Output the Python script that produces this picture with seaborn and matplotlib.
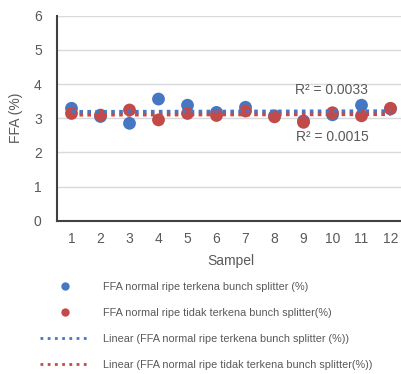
import numpy as np
import pandas as pd
import matplotlib
matplotlib.use("Agg")
import matplotlib.pyplot as plt
import seaborn as sns
from matplotlib.lines import Line2D

samples = list(range(1, 13))
ffa_terkena = [3.29, 3.05, 2.85, 3.56, 3.38, 3.17, 3.32, 3.07, 2.92, 3.10, 3.38, 3.27]
ffa_tidak = [3.14, 3.09, 3.24, 2.95, 3.14, 3.08, 3.21, 3.04, 2.88, 3.16, 3.07, 3.29]
label_terkena = "FFA normal ripe terkena bunch splitter (%)"
label_tidak = "FFA normal ripe tidak terkena bunch splitter(%)"
trend_terkena = "Linear (FFA normal ripe terkena bunch splitter (%))"
trend_tidak = "Linear (FFA normal ripe tidak terkena bunch splitter(%))"
r2_labels = ["R² = 0.0033", "R² = 0.0015"]
yticks = [0, 1, 2, 3, 4, 5, 6]

blue = "#4677C2"
red = "#C24A48"
gray = "#595959"

df = pd.DataFrame({
    "Sampel": samples * 2,
    "FFA": ffa_terkena + ffa_tidak,
    "series": [label_terkena] * 12 + [label_tidak] * 12,
})

sns.set_style("white")
plt.rcParams["font.family"] = ["Liberation Sans", "DejaVu Sans"]

fig = plt.figure(figsize=(4.01, 3.74), dpi=100)
ax = fig.add_axes([57 / 401, 1 - 220.7 / 374, 348 / 401, (220.7 - 15.7) / 374])

sns.scatterplot(data=df, x="Sampel", y="FFA", hue="series",
                palette={label_terkena: blue, label_tidak: red},
                s=85, edgecolor="none", ax=ax, legend=False, zorder=3)
sns.regplot(x=samples, y=ffa_terkena, scatter=False, ci=None, ax=ax,
            line_kws=dict(color=blue, linestyle=(0, (1, 1.2)), linewidth=2.6, zorder=4))
sns.regplot(x=samples, y=ffa_tidak, scatter=False, ci=None, ax=ax,
            line_kws=dict(color=red, linestyle=(0, (1, 1.2)), linewidth=2.6, zorder=4))

ax.set_xlim(0.5, 12.5)
ax.set_ylim(0, 6)
ax.set_xticks(samples)
ax.set_yticks(yticks)
ax.grid(axis="y", color="#d9d9d9", linewidth=1)
ax.set_axisbelow(True)
for s in ["top", "right"]:
    ax.spines[s].set_visible(False)
for s in ["left", "bottom"]:
    ax.spines[s].set_color("#404040")
    ax.spines[s].set_linewidth(1.5)
ax.tick_params(axis="both", length=0, labelsize=10, labelcolor=gray)
ax.tick_params(axis="y", pad=11)
ax.tick_params(axis="x", pad=8)
ax.set_xlabel("Sampel", fontsize=10, color=gray, labelpad=6)
ax.set_ylabel("FFA (%)", fontsize=10, color=gray, labelpad=8)

ax.text(9.95, 3.84, r2_labels[0], fontsize=10, color=gray, ha="center", va="center")
ax.text(9.98, 2.44, r2_labels[1], fontsize=10, color=gray, ha="center", va="center")

handles = [
    Line2D([], [], marker="o", linestyle="none", color=blue, markersize=6, markeredgewidth=0),
    Line2D([], [], marker="o", linestyle="none", color=red, markersize=6, markeredgewidth=0),
    Line2D([], [], color=blue, linestyle=(0, (1, 1.6)), linewidth=2),
    Line2D([], [], color=red, linestyle=(0, (1, 1.6)), linewidth=2),
]
labels = [label_terkena, label_tidak, trend_terkena, trend_tidak]
leg = fig.legend(handles, labels, loc="upper left", bbox_to_anchor=(40 / 401, 1 - 281.5 / 374),
                 frameon=False, fontsize=7.8, handlelength=4.6, handletextpad=1.2,
                 labelspacing=1.48, borderaxespad=0, borderpad=0)
for t in leg.get_texts():
    t.set_color(gray)

fig.savefig("out.png", dpi=100)
